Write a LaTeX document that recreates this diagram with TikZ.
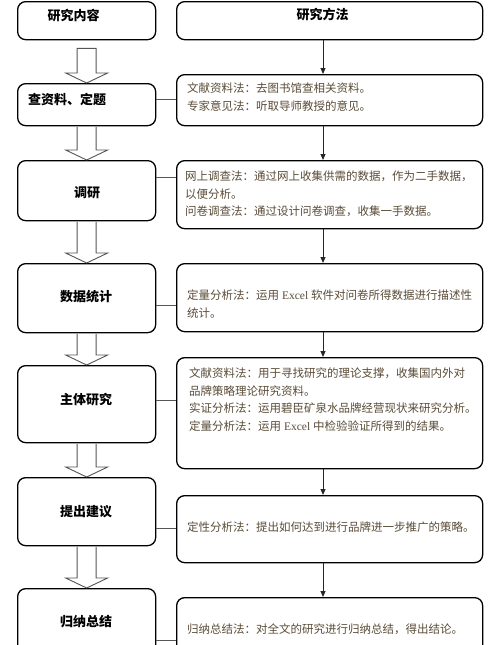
\documentclass[tikz,border=0pt]{standalone}
\usepackage{fontspec}
\setmainfont{Liberation Serif}
\newfontfamily\cjk{Noto Sans CJK SC}
\usetikzlibrary{arrows.meta,calc}
\definecolor{txtbrown}{HTML}{5A4C38}
\definecolor{arrgray}{HTML}{555555}
\begin{document}
\begin{tikzpicture}[x=1pt,y=-1pt,
  box/.style={draw=black,line width=1.3pt,rounded corners=8pt,inner sep=0pt,anchor=north west,fill=white},
  lbox/.style={box,minimum width=138pt},
  rbox/.style={box,minimum width=306pt},
  ltxt/.style={font=\cjk\bfseries\fontsize{13}{15}\selectfont,inner sep=0pt,text=black},
  rtxt/.style={font=\cjk\fontsize{11.5}{17.5}\selectfont,inner sep=0pt,align=left,anchor=north west,text=txtbrown},
  hollow/.style={draw=arrgray,line width=0.9pt,fill=white,line join=miter},
  varrow/.style={draw=black!85,line width=1pt,-{Triangle[length=6pt,width=5pt]}},
  conn/.style={draw=arrgray,line width=0.9pt}]
\useasboundingbox (0,0) rectangle (500,645);
\fill[white] (0,0) rectangle (500,645);

% left boxes
\node[lbox,minimum height=38pt] (lb1) at (17,1) {};
\node[lbox,minimum height=42pt] (lb2) at (17,83) {};
\node[lbox,minimum height=60pt] (lb3) at (17,160) {};
\node[lbox,minimum height=69pt] (lb4) at (17,263) {};
\node[lbox,minimum height=77pt] (lb5) at (17,365) {};
\node[lbox,minimum height=68pt] (lb6) at (17,477) {};
\node[lbox,minimum height=80pt] (lb7) at (17,588) {};

% right boxes
\node[rbox,minimum height=38pt] (rb1) at (176,1) {};
\node[rbox,minimum height=51pt] (rb2) at (176,74) {};
\node[rbox,minimum height=68pt] (rb3) at (176,160) {};
\node[rbox,minimum height=68pt] (rb4) at (176,263) {};
\node[rbox,minimum height=111pt] (rb5) at (176,357) {};
\node[rbox,minimum height=67pt] (rb6) at (176,495) {};
\node[rbox,minimum height=80pt] (rb7) at (176,597) {};

% left labels
\node[ltxt] (lt1) at (73.5,16) {研究内容};
\node[ltxt,anchor=west] (lt2) at (28,99) {查资料、定题};
\node[ltxt] (lt3) at (87,193) {调研};
\node[ltxt] (lt4) at (86,297) {数据统计};
\node[ltxt] (lt5) at (86,400) {主体研究};
\node[ltxt] (lt6) at (86,512) {提出建议};
\node[ltxt] (lt7) at (86,622) {归纳总结};
\node[ltxt] (rt1) at (322.5,15) {研究方法};

% right texts
\node[rtxt] (rt2) at (187,83) {文献资料法：去图书馆查相关资料。\\专家意见法：听取导师教授的意见。};
\node[rtxt] (rt3) at (185,171) {网上调查法：通过网上收集供需的数据，作为二手数据，\\以便分析。\\问卷调查法：通过设计问卷调查，收集一手数据。};
\node[rtxt] (rt4) at (187,290) {定量分析法：运用{\rmfamily\fontsize{11.5}{17.5}\selectfont\ Excel\ }软件对问卷所得数据进行描述性\\统计。};
\node[rtxt] (rt5) at (189,368) {文献资料法：用于寻找研究的理论支撑，收集国内外对\\品牌策略理论研究资料。\\实证分析法：运用碧臣矿泉水品牌经营现状来研究分析。\\定量分析法：运用{\rmfamily\fontsize{11.5}{17.5}\selectfont\ Excel\ }中检验验证所得到的结果。};
\node[rtxt] (rt6) at (187,522) {定性分析法：提出如何达到进行品牌进一步推广的策略。};
\node[rtxt] (rt7) at (187,624) {归纳总结法：对全文的研究进行归纳总结，得出结论。};

% hollow arrows between left boxes
\path[hollow] let \p1=(lb1.south), \p2=(lb2.north) in
    (\x1-9.5pt,\y1-8pt) -- (\x1-9.5pt,\y2+10pt) -- (\x1-21pt,\y2+10pt) -- (\x1,\y2)
    -- (\x1+21pt,\y2+10pt) -- (\x1+9.5pt,\y2+10pt) -- (\x1+9.5pt,\y1-8pt) -- cycle;
\foreach \a/\b in {lb2/lb3,lb3/lb4,lb4/lb5,lb5/lb6,lb6/lb7}{
  \path[hollow] let \p1=(\a.south), \p2=(\b.north) in
    (\x1-9.5pt,\y1-0.7pt) -- (\x1-9.5pt,\y2+10pt) -- (\x1-21pt,\y2+10pt) -- (\x1,\y2)
    -- (\x1+21pt,\y2+10pt) -- (\x1+9.5pt,\y2+10pt) -- (\x1+9.5pt,\y1-0.7pt);
}

% vertical arrows between right boxes
\coordinate (xr) at (323,0);
\foreach \a/\b in {rb1/rb2,rb2/rb3,rb3/rb4,rb4/rb5,rb5/rb6,rb6/rb7}{
  \draw[varrow] (\a.south -| xr) -- (\b.north -| xr);
}

% horizontal connectors
\coordinate (h2) at (0,99);
\coordinate (h3) at (0,177);
\coordinate (h4) at (0,305);
\coordinate (h5) at (0,400);
\coordinate (h6) at (0,528);
\coordinate (h7) at (0,640);
\foreach \i in {2,...,7}{
  \draw[conn] (lb\i.east |- h\i) -- (rb\i.west |- h\i);
}
\end{tikzpicture}
\end{document}
